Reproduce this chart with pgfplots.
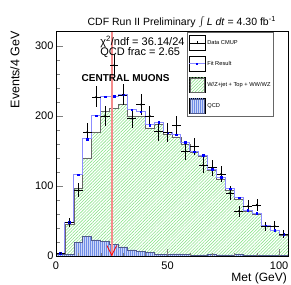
\documentclass[border=0pt]{standalone}
\usepackage{pgfplots}
\pgfplotsset{compat=1.18}
\usepackage{pgfplotstable}
\usepackage{fontspec}
\setmainfont{Liberation Sans}
\usetikzlibrary{patterns.meta}
\definecolor{hatchgreen}{RGB}{140,228,140}
\definecolor{qcdfill}{RGB}{205,215,248}
\definecolor{qcdline}{RGB}{110,140,230}
\definecolor{qcdedge}{RGB}{80,90,140}
\definecolor{fitcol}{RGB}{140,140,255}
\definecolor{redline}{RGB}{245,140,140}

\pgfplotstableread{
xl g q f
0 1.6 2.4 4
4 45.6 2.4 48
8 97 19.5 116
12 140 27.6 167
16 177 23 200
20 206 21 227
24 211 17 228
28 217 13 230
32 200 8.6 209
36 199 7 206
40 182 5 187
44 188 2.4 191
48 174 2 176
52 170 3 173
56 160 2 162
60 148 1 149
64 142 1.5 144
68 122 2.4 124
72 110 1.5 112
76 94 1.5 96
80 81 2 83
84 64 1 65
88 60 1 61
92 42 0.5 43
96 36 0.5 37
100 30 0.5 31
104 30 0.5 31
}\edges

\pgfplotstableread{
xc d e f
2 4 2 4
6 48 6.9 48
10 94 9.7 116
14 177 13.3 167
18 227 15.1 200
22 200 14.1 227
26 272 16.5 228
30 230 15.2 230
34 196 14 209
38 216 14.7 206
42 200 14.1 187
46 178 13.3 191
50 176 13.3 176
54 186 13.6 173
58 149 12.2 162
62 156 12.5 149
66 130 11.4 144
70 126 11.2 124
74 117 10.8 112
78 90 9.5 96
82 64 8 83
86 71 8.4 65
90 73 8.5 61
94 42 6.5 43
98 43 6.6 37
102 31 5.6 31
}\centers

\begin{document}
\begin{tikzpicture}
\useasboundingbox (-56pt,-28pt) rectangle (235pt,256pt);
\begin{axis}[
  scale only axis, width=232pt, height=225pt,
  at={(0pt,0pt)}, anchor=south west,
  xmin=0, xmax=104, ymin=0, ymax=321,
  axis on top,
  tick align=inside, xtick pos=bottom, ytick pos=left,
  xtick={0,50,100}, ytick={0,100,200,300},
  minor x tick num=4, minor y tick num=4,
  major tick length=7pt, minor tick length=3.5pt,
  axis line style={line width=0.6pt},
  /pgf/number format/assume math mode=true,
  tick label style={font=\fontsize{11}{13}\selectfont},
  xticklabel style={yshift=-2pt},
  yticklabel style={xshift=1pt},
  xlabel={Met (GeV)},
  xlabel style={at={(rel axis cs:1,0)}, anchor=north east, yshift=-16.5pt, xshift=-1pt, inner sep=0pt, font=\fontsize{12}{14}\selectfont},
  ylabel={Events/4 GeV},
  ylabel style={at={(rel axis cs:0,1)}, anchor=north east, yshift=46pt, inner sep=0pt, font=\fontsize{12.5}{14}\selectfont},
  title={CDF Run II Preliminary $\int$\,\textit{L dt} = 4.30 fb\textsuperscript{-1}},
  title style={at={(rel axis cs:0.542,1)}, anchor=center, yshift=3pt, inner sep=0pt, font=\fontsize{10.5}{12}\selectfont},
  legend style={at={(rel axis cs:0.565,0.996)}, anchor=north west, draw=black!60, line width=0.5pt,
    font=\fontsize{5.7}{7}\selectfont, row sep=5.5pt, inner xsep=1pt, inner ysep=3pt,
    cells={anchor=west}},
  legend cell align=left,
]
\addlegendimage{legend image code/.code={
  \path (0pt,-7.5pt) rectangle (16pt,7.5pt);
  \draw[black, line width=0.5pt] (0pt,0pt) -- (16pt,0pt);
  \draw[black, line width=0.5pt] (8pt,-1.5pt) -- (8pt,1.5pt);}}
\addlegendentry{Data CMUP}
\addlegendimage{legend image code/.code={
  \path (0pt,-7.5pt) rectangle (16pt,7.5pt);
  \draw[fitcol, line width=1pt] (0pt,0pt) -- (16pt,0pt);
  \fill[blue] (7.2pt,-0.8pt) rectangle (8.8pt,0.8pt);}}
\addlegendentry{Fit Result}
\addlegendimage{legend image code/.code={
  \path (0pt,-7.5pt) rectangle (16pt,7.5pt);
  \draw[black!60, line width=0.4pt, pattern={Lines[angle=45,distance=2.2pt,line width=0.6pt]}, pattern color=hatchgreen] (1pt,-7pt) rectangle (15pt,7pt);}}
\addlegendentry{W/Z+jet + Top + WW/WZ}
\addlegendimage{legend image code/.code={
  \path (0pt,-7.5pt) rectangle (16pt,7.5pt);
  \draw[qcdedge, line width=0.4pt, fill=qcdfill, postaction={pattern={Lines[angle=90,distance=2pt,line width=0.75pt]}, pattern color=qcdline}] (1pt,-7pt) rectangle (15pt,7pt);}}
\addlegendentry{QCD}

% electroweak + top template
\addplot[forget plot, const plot mark left, draw=black!60, line width=0.6pt,
  pattern={Lines[angle=45,distance=2.2pt,line width=0.6pt]}, pattern color=hatchgreen]
  table[x=xl, y=g] {\edges} \closedcycle;
% QCD template
\addplot[forget plot, const plot mark left, draw=qcdedge, line width=0.6pt, fill=qcdfill,
  postaction={pattern={Lines[angle=90,distance=2pt,line width=0.75pt]}, pattern color=qcdline}]
  table[x=xl, y=q] {\edges} \closedcycle;
% fit result
\addplot[forget plot, const plot mark left, fitcol, line width=1.1pt] table[x=xl, y=f] {\edges};
\addplot[forget plot, only marks, mark=square*, mark size=0.8pt, blue] table[x=xc, y=f] {\centers};
% cut line and arrow
\addplot[forget plot, redline, line width=1.6pt] coordinates {(25,0) (25,321)};
\addplot[forget plot, red, line width=0.8pt] coordinates {(22.8,15) (25,1) (27.2,15)};
% data
\addplot[forget plot, only marks, mark=*, mark size=0.6pt, black,
  error bars/.cd, x dir=both, x fixed=2, y dir=both, y explicit,
  error bar style={line width=0.5pt, black}, error mark=none]
  table[x=xc, y=d, y error=e] {\centers};

\node[anchor=west, font=\fontsize{11}{13}\selectfont, inner sep=0pt] at (rel axis cs:0.19,0.951) {χ\textsuperscript{2}/ndf = 36.14/24};
\node[anchor=west, font=\fontsize{11}{13}\selectfont, inner sep=0pt] at (rel axis cs:0.19,0.902) {QCD frac = 2.65};
\node[font=\bfseries\fontsize{10}{12}\selectfont, inner sep=0pt] at (rel axis cs:0.30,0.791) {CENTRAL MUONS};
\end{axis}
\end{tikzpicture}
\end{document}
